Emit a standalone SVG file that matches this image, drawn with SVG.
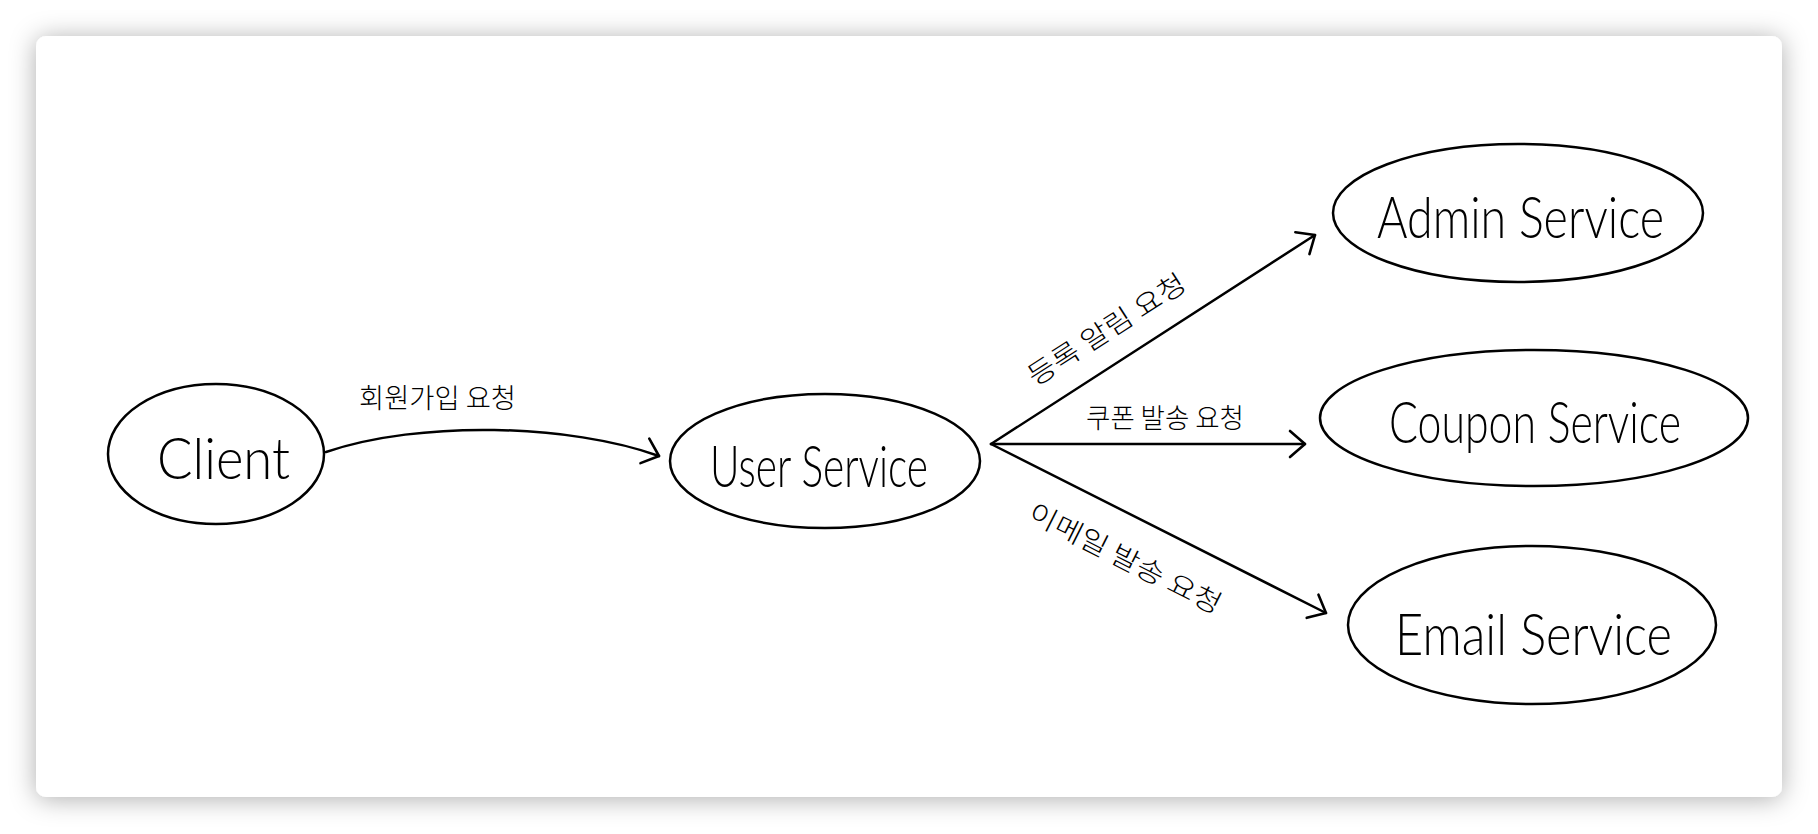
<svg xmlns="http://www.w3.org/2000/svg" width="1818" height="834" viewBox="0 0 1818 834">
  <defs>
    <filter id="shadow" x="-10%" y="-10%" width="120%" height="120%">
      <feDropShadow dx="0" dy="2" stdDeviation="13" flood-color="#000" flood-opacity="0.32"/>
    </filter>
    <marker id="arrow" markerUnits="userSpaceOnUse" markerWidth="40" markerHeight="40" refX="0" refY="0" viewBox="-20 -20 40 40" orient="auto" overflow="visible">
      <path d="M -15 -13 L 0 0 L -15 13" fill="none" stroke="#000" stroke-width="2.6" stroke-linecap="round" stroke-linejoin="round"/>
    </marker>
    <style>
      .node { fill: #fff; stroke: #000; stroke-width: 2.5; }
      .name { font-family: "Lato", "Liberation Sans", sans-serif; font-weight: 300; font-size: 58px; fill: #000; }
      .lbl { font-family: "Noto Sans CJK KR", "Noto Sans", sans-serif; font-weight: 300; font-size: 27px; fill: #000; }
      .edge { fill: none; stroke: #000; stroke-width: 2.5; stroke-linecap: round; marker-end: url(#arrow); }
    </style>
  </defs>

  <rect x="0" y="0" width="1818" height="834" fill="#fff"/>
  <rect x="36" y="36" width="1746" height="761" rx="10" ry="10" fill="#fff" filter="url(#shadow)"/>

  <g id="connectors">
    <path class="edge" d="M 326 452 C 420 420 570 424 659 456"/>
    <path class="edge" d="M 991 444 L 1315 235"/>
    <path class="edge" d="M 991 444 L 1305 444"/>
    <path class="edge" d="M 991 444 L 1326 613"/>
    <text class="lbl" x="359" y="408" textLength="157" lengthAdjust="spacingAndGlyphs">회원가입 요청</text>
    <text class="lbl" transform="translate(1107 330) rotate(-32.7)" x="0" y="9" text-anchor="middle" textLength="182" lengthAdjust="spacingAndGlyphs">등록 알림 요청</text>
    <text class="lbl" x="1086" y="428" textLength="158" lengthAdjust="spacingAndGlyphs">쿠폰 발송 요청</text>
    <text class="lbl" transform="translate(1125 559) rotate(26.8)" x="0" y="9" text-anchor="middle" textLength="212" lengthAdjust="spacingAndGlyphs">이메일 발송 요청</text>
  </g>

  <g id="client">
    <ellipse class="node" cx="216" cy="454" rx="108" ry="70"/>
    <text class="name" x="157" y="479" textLength="133" lengthAdjust="spacingAndGlyphs">Client</text>
  </g>
  <g id="user-service">
    <ellipse class="node" cx="825" cy="461" rx="155" ry="67"/>
    <text class="name" x="710" y="487" textLength="218" lengthAdjust="spacingAndGlyphs">User Service</text>
  </g>
  <g id="admin-service">
    <ellipse class="node" cx="1518" cy="213" rx="185" ry="69"/>
    <text class="name" x="1377" y="238" textLength="287" lengthAdjust="spacingAndGlyphs">Admin Service</text>
  </g>
  <g id="coupon-service">
    <ellipse class="node" cx="1534" cy="418" rx="214" ry="68"/>
    <text class="name" x="1389" y="443" textLength="292" lengthAdjust="spacingAndGlyphs">Coupon Service</text>
  </g>
  <g id="email-service">
    <ellipse class="node" cx="1532" cy="625" rx="184" ry="79"/>
    <text class="name" x="1395" y="655" textLength="277" lengthAdjust="spacingAndGlyphs">Email Service</text>
  </g>
</svg>
